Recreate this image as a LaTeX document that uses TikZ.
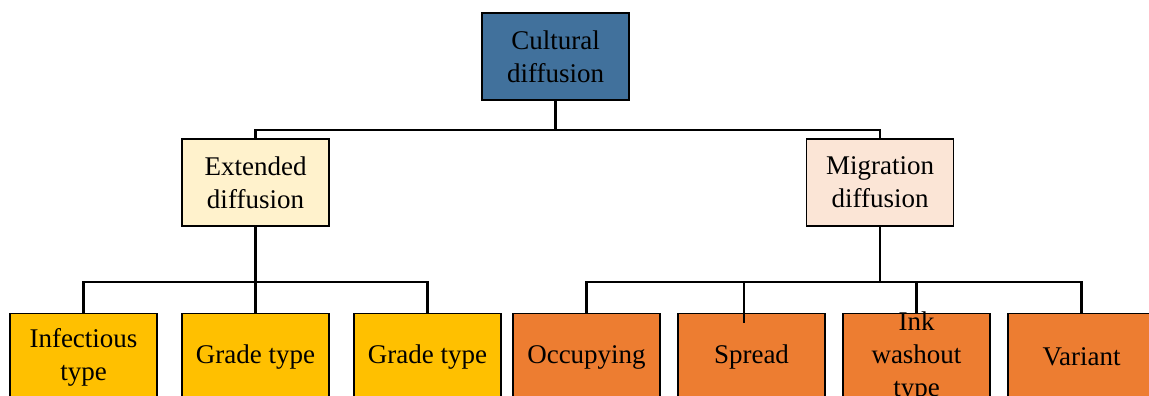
\documentclass[tikz,border=0pt]{standalone}
\usepackage{fontspec}
\setmainfont{Liberation Serif}
\definecolor{topblue}{HTML}{41719C}
\definecolor{paleyellow}{HTML}{FFF2CC}
\definecolor{palepeach}{HTML}{FBE5D6}
\definecolor{amber}{HTML}{FFC000}
\definecolor{orange}{HTML}{ED7D31}
\newcommand{\boxfont}{\fontsize{27}{33}\selectfont}
\begin{document}
\begin{tikzpicture}[x=1pt,y=-1pt,
  box/.style={draw=black,line width=1.3pt,minimum width=147pt,minimum height=87pt,
    inner sep=0pt,align=center,font=\boxfont},
  link/.style={line width=2.2pt,draw=black}]
\clip (0,0) rectangle (1149,396);

% tree levels
\node[box,fill=topblue,text=black] (top) at (555.5,56.5) {Cultural\\diffusion};
\node[box,fill=paleyellow] (ext) at (255.5,182.5) {Extended\\diffusion};
\node[box,fill=palepeach] (mig) at (880,182.5) {Migration\\diffusion};

\node[box,fill=amber] (inf) at (83.5,357) {Infectious\\type};
\node[box,fill=amber] (gr1) at (255.5,357) {Grade type};
\node[box,fill=amber] (gr2) at (427.5,357) {Grade type};

\node[box,fill=orange] (occ) at (586.5,357) {Occupying};
\node[box,fill=orange] (spr) at (751.5,357) {Spread};
% three lines run past the box edges, so the text is laid over a fixed-size box
\node[box,fill=orange,
  label={[font=\boxfont,align=center,inner sep=0pt]center:Ink\\washout\\type}] (ink) at (916.5,357) {};
\node[box,fill=orange] (var) at (1081.5,357) {Variant};

% bus lines
\coordinate (busA) at (555.5,130);
\coordinate (busB) at (0,282);
\coordinate (sprtap) at ([xshift=-7.5pt,yshift=-10pt]spr.north);

\draw[link] (top.south) -- (top.south |- busA);
\draw[link] (ext.north) -- (ext.north |- busA) -- (mig.north |- busA) -- (mig.north);

\draw[link] (ext.south) -- (ext.south |- busB);
\draw[link] (inf.north) -- (inf.north |- busB) -- (gr2.north |- busB) -- (gr2.north);
\draw[link] (gr1.north) -- (gr1.north |- busB);

\draw[link] (mig.south) -- (mig.south |- busB);
\draw[link] (occ.north) -- (occ.north |- busB) -- (var.north |- busB) -- (var.north);
\draw[link] (sprtap) -- (sprtap |- busB);
\draw[link] (ink.north) -- (ink.north |- busB);
\end{tikzpicture}
\end{document}
